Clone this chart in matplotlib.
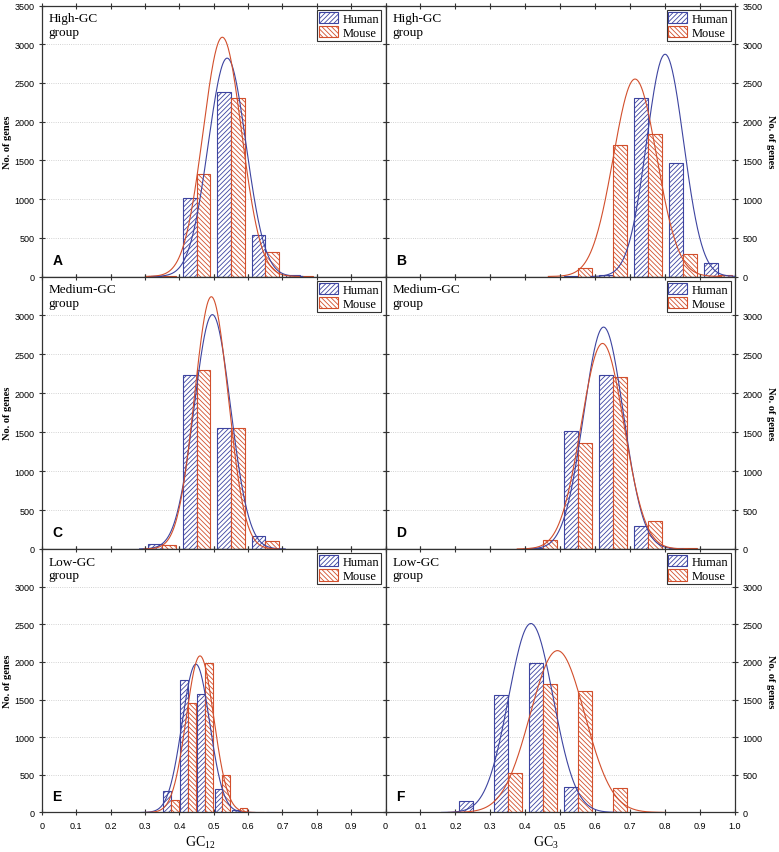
import numpy as np
import matplotlib.pyplot as plt

plt.rcParams['font.family'] = ['Liberation Sans', 'DejaVu Sans']
plt.rcParams['mathtext.fontset'] = 'custom'
plt.rcParams['mathtext.rm'] = 'Liberation Serif'
plt.rcParams['mathtext.it'] = 'Liberation Serif:italic'
plt.rcParams['hatch.linewidth'] = 0.6

SERIF = ['Liberation Serif', 'DejaVu Serif']
COL_H = '#3d44a0'
COL_M = '#d24f2c'

# ----- Data: bin centres and number of genes -----
# A: GC12, high-GC group
a_bins = [0.35, 0.45, 0.55, 0.65, 0.75]
a_human = [5, 1010, 2380, 530, 15]
a_mouse = [5, 1320, 2300, 310, 5]
# B: GC3, high-GC group
b_bins = [0.55, 0.65, 0.75, 0.85, 0.95]
b_human = [5, 15, 2310, 1460, 180]
b_mouse = [110, 1700, 1840, 285, 20]
# C: GC12, medium-GC group
c_bins = [0.35, 0.45, 0.55, 0.65]
c_human = [60, 2240, 1560, 170]
c_mouse = [50, 2300, 1560, 100]
# D: GC3, medium-GC group
d_bins = [0.45, 0.55, 0.65, 0.75, 0.85]
d_human = [10, 1510, 2240, 290, 10]
d_mouse = [110, 1360, 2210, 360, 10]
# E: GC12, low-GC group (narrower bins)
e_bins = [0.325, 0.375, 0.425, 0.475, 0.525, 0.575, 0.625, 0.675]
e_human = [5, 280, 1760, 1575, 310, 30, 5, 5]
e_mouse = [5, 170, 1460, 1980, 500, 60, 10, 10]
# F: GC3, low-GC group
f_bins = [0.25, 0.35, 0.45, 0.55, 0.65, 0.75]
f_human = [150, 1560, 1990, 340, 10, 0]
f_mouse = [10, 520, 1710, 1610, 330, 10]

# ----- Fitted normal curves (mean, sd, peak height) -----
a_fit = [(0.539, 0.055, 2820), (0.525, 0.056, 3090)]
b_fit = [(0.800, 0.053, 2870), (0.714, 0.062, 2550)]
c_fit = [(0.496, 0.053, 3010), (0.493, 0.049, 3240)]
d_fit = [(0.624, 0.057, 2850), (0.621, 0.061, 2640)]
e_fit = [(0.448, 0.040, 1970), (0.460, 0.040, 2080)]
f_fit = [(0.416, 0.064, 2510), (0.492, 0.078, 2150)]

groups = ['High-GC\ngroup', 'Medium-GC\ngroup', 'Low-GC\ngroup']
letters = ['A', 'B', 'C', 'D', 'E', 'F']
x_ticks = np.round(np.arange(0, 1.01, 0.1), 1)
y_ticks_top = np.arange(0, 3501, 500)
y_ticks = np.arange(0, 3001, 500)

panels = [
    (a_bins, a_human, a_mouse, a_fit, 0.04),
    (b_bins, b_human, b_mouse, b_fit, 0.04),
    (c_bins, c_human, c_mouse, c_fit, 0.04),
    (d_bins, d_human, d_mouse, d_fit, 0.04),
    (e_bins, e_human, e_mouse, e_fit, 0.0225),
    (f_bins, f_human, f_mouse, f_fit, 0.04),
]

# ----- Figure -----
fig, axes = plt.subplots(3, 2, figsize=(7.79, 8.53), dpi=100,
                         gridspec_kw=dict(height_ratios=[271, 272.5, 263.5],
                                          width_ratios=[343.5, 349.5],
                                          hspace=0, wspace=0))
fig.subplots_adjust(left=42 / 779, right=735 / 779, top=1 - 6.5 / 853, bottom=1 - 813.5 / 853)

for i, ax in enumerate(axes.flat):
    bins, human, mouse, fits, w = panels[i]
    row, col = divmod(i, 2)
    bins = np.array(bins)

    ax.bar(bins - w / 2, human, width=w, facecolor='white', edgecolor=COL_H,
           hatch='///////', linewidth=0.8, label='Human', zorder=2)
    ax.bar(bins + w / 2, mouse, width=w, facecolor='white', edgecolor=COL_M,
           hatch='\\\\\\\\\\\\\\', linewidth=0.8, label='Mouse', zorder=2)
    for (mu, sd, peak), c in zip(fits, [COL_H, COL_M]):
        xs = np.linspace(mu - 4 * sd, mu + 4 * sd, 300)
        ax.plot(xs, peak * np.exp(-0.5 * ((xs - mu) / sd) ** 2), color=c, lw=0.8, zorder=3)

    ax.set_xlim(0, 1)
    ax.set_ylim(0, 3500)
    ax.set_xticks(x_ticks)
    ax.set_yticks(y_ticks_top if row == 0 else y_ticks)
    ax.grid(axis='y', linestyle=':', color='#c4c4c4', lw=0.6)
    ax.set_axisbelow(True)
    for s in ax.spines.values():
        s.set_linewidth(0.9)
        s.set_color('#333333')
    ax.tick_params(axis='x', direction='inout', length=4, width=0.8, top=True,
                   labelsize=6.5, colors='#333333', labelcolor='black', pad=4)
    ax.tick_params(axis='y', direction='inout', length=4, width=0.8, left=True, right=True,
                   labelsize=6.5, colors='#333333', labelcolor='black',
                   labelleft=(col == 0), labelright=(col == 1))

    if row == 2:
        if col == 0:
            ax.set_xticklabels(['0'] + [f'{t:.1f}' for t in x_ticks[1:-1]] + [''])
            ax.set_xlabel('GC$_\\mathrm{12}$', fontfamily=SERIF, fontsize=10)
        else:
            ax.set_xticklabels(['0'] + [f'{t:.1f}' for t in x_ticks[1:]])
            ax.set_xlabel('GC$_\\mathrm{3}$', fontfamily=SERIF, fontsize=10)
        ax.xaxis.set_label_coords(0.46, -0.08)
    else:
        ax.tick_params(axis='x', labelbottom=False)

    # y label placed by hand so it stays inside the figure
    pos = ax.get_position()
    yc = (pos.y0 + pos.y1) / 2
    if col == 0:
        fig.text(8 / 779, yc, 'No. of genes', rotation=90, ha='center', va='center',
                 fontfamily=SERIF, fontsize=7.5, fontweight='bold')
    else:
        fig.text(771 / 779, yc, 'No. of genes', rotation=270, ha='center', va='center',
                 fontfamily=SERIF, fontsize=7.5, fontweight='bold')

    ax.text(0.02, 0.975, groups[row], transform=ax.transAxes, ha='left', va='top',
            fontfamily=SERIF, fontsize=9.5, linespacing=1.2)
    ax.text(0.03, 0.035, letters[i], transform=ax.transAxes, ha='left', va='bottom',
            fontsize=10, fontweight='bold')

    leg = ax.legend(loc='upper right', prop=dict(family=SERIF, size=9), fancybox=False,
                    framealpha=1, edgecolor='#333333', borderpad=0.15, labelspacing=0.1,
                    handlelength=1.5, handleheight=1.0, handletextpad=0.4, borderaxespad=0.35)
    leg.get_frame().set_linewidth(0.8)

plt.savefig('out.png', dpi=100)
